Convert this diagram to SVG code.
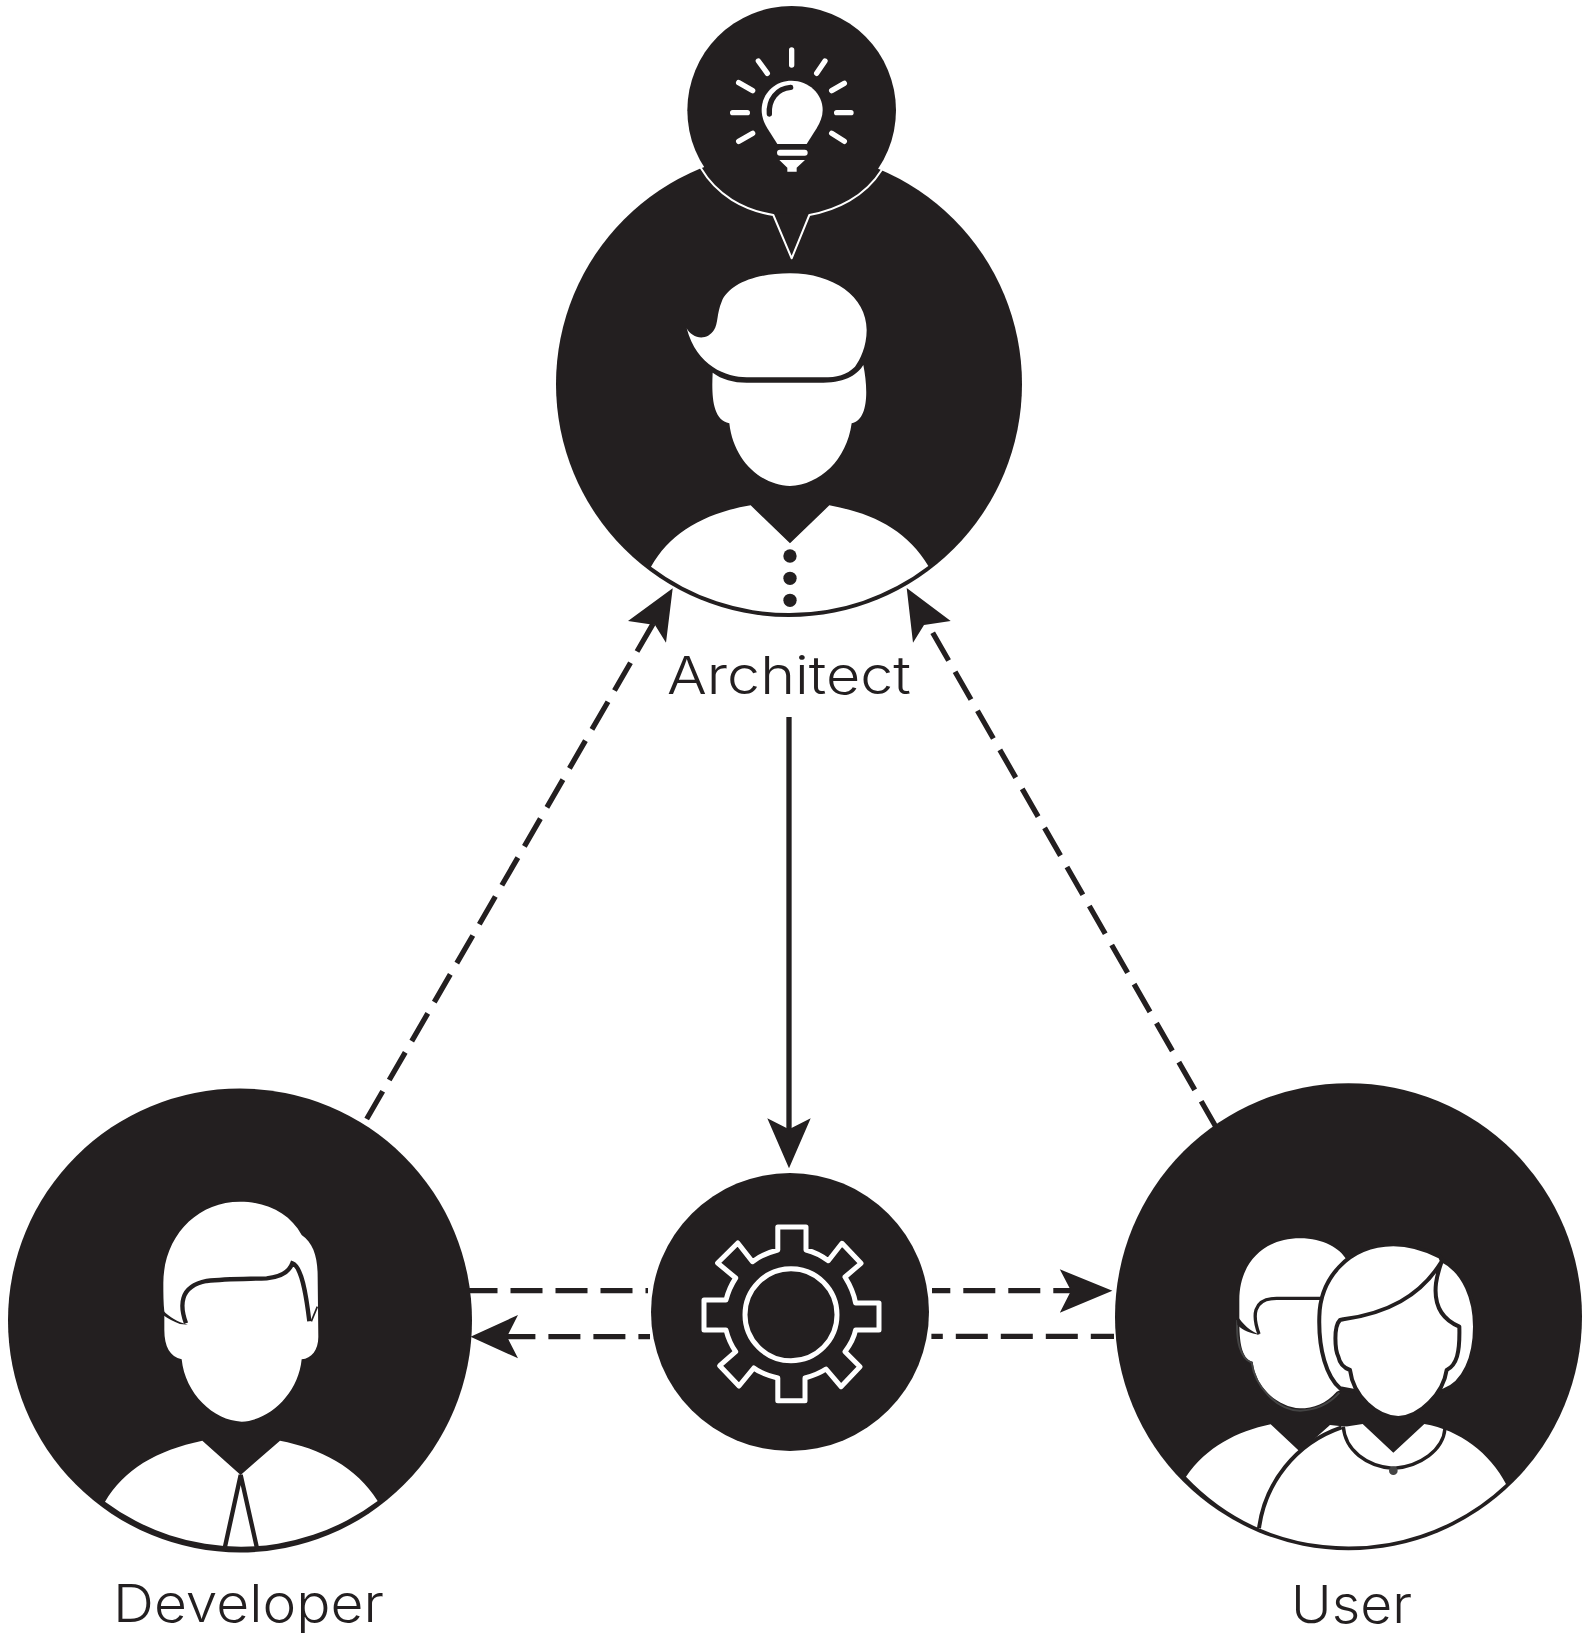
<svg xmlns="http://www.w3.org/2000/svg" width="1583" height="1634" viewBox="0 0 1583 1634">
<style>
.k{fill:#231f20}
.w{fill:#fff}
.o{fill:#fff;stroke:#231f20;stroke-linejoin:round}
.ln{fill:none;stroke:#231f20;stroke-linecap:butt}
.d{fill:none;stroke:#231f20;stroke-width:5.300;stroke-dasharray:32 13}
.wl{fill:none;stroke:#fff;stroke-linecap:round;stroke-linejoin:round}
.t{font-family:Inter,"Open Sans","Liberation Sans",sans-serif;font-weight:300;font-size:52px;fill:#231f20}
</style>
<rect width="1583" height="1634" fill="#fff"/>
<g id="connectors">
<path class="d" d="M366.700 1119L653.500 623"/>
<path class="k" d="M672.700 588.300L628 621L655 625L666 642.700Z"/>
<path class="d" d="M932.700 632.700L1217.700 1130"/>
<path class="k" d="M906.700 588L950.700 621L924 625L913 642.700Z"/>
<path class="ln" stroke-width="5.300" d="M789 717V1135"/>
<path class="k" d="M789 1168.300L767.300 1118.300L789 1129.300L810.700 1118.300Z"/>
<path class="d" d="M465.500 1290.700H648"/>
<path class="d" d="M503.400 1336.700H650"/>
<path class="k" d="M470.500 1336.700L518 1315L507 1336.700L518 1358.300Z"/>
<path class="d" d="M932 1290.700H1072" stroke-dashoffset="13.700"/>
<path class="k" d="M1112.400 1290.700L1059.800 1269.300L1071 1290.700L1059.800 1312.700Z"/>
<path class="d" d="M931.400 1336.300H1114" stroke-dashoffset="20.600"/>
</g>
<g id="architect">
<circle class="k" cx="789" cy="384" r="233"/>
<g transform="translate(540 0) scale(.33333)">
<circle class="k" cx="755" cy="331" r="313"/>
<path class="k" d="M690 640L755 780L820 640Z"/>
<path class="wl" stroke-width="6" stroke-linecap="butt" d="M483 505C530 585 610 630 700 645L755 775L808 645C890 630 975 590 1025 510"/>
<path class="wl" stroke-width="16" d="M755 150V195M655 183L682 220M855 183L830 220M596 248L638 272M913 250L875 272M578 338H622M890 338H933M596 424L638 400M913 424L875 400"/>
<path class="w" d="M712 432L682 385C672 368 665 350 665 330C665 280 705 242 755 242C805 242 848 280 848 330C848 350 840 368 830 385L800 432Z"/>
<path fill="none" stroke="#231f20" stroke-width="16" stroke-linecap="round" d="M688 342C685 300 710 265 752 262"/>
<rect class="w" x="711" y="449" width="92" height="18" rx="9"/>
<path class="w" d="M718 480H795L770 503V515H742V503Z"/>
</g>
<g transform="translate(540 260) scale(.33333)">
<path class="w" d="M518 338C515 400 515 480 568 490C580 600 660 675 750 678C840 675 920 600 935 490C985 480 985 390 970 315C955 340 920 368 850 368H620C580 368 545 358 518 338Z"/>
<path class="w" d="M440 205C455 235 500 245 522 210C535 190 530 160 545 125C565 75 640 40 750 40C880 40 980 110 980 210C980 260 960 300 945 320C920 345 890 352 850 352H620C560 352 470 320 440 205Z"/>
<path class="w" d="M333 920C390 820 490 760 632 736L750 850L868 736C1000 760 1100 810 1165 918A687 687 0 0 1 333 920Z"/>
<circle class="k" cx="750" cy="888" r="20"/>
<circle class="k" cx="750" cy="955" r="20"/>
<circle class="k" cx="750" cy="1021" r="20"/>
</g>
<text class="t" x="667" y="694" textLength="244" lengthAdjust="spacingAndGlyphs">Architect</text>
</g>
<g id="developer">
<circle class="k" cx="240" cy="1320.500" r="232"/>
<g transform="translate(0 1180) scale(.33333)">
<path class="w" d="M490 310C490 170 590 65 720 65C800 65 870 100 905 165C940 190 953 230 953 290L955 470C955 510 935 535 905 538C895 640 810 722 725 725C640 722 555 640 545 538C510 530 493 500 493 450V395C490 370 490 340 490 310Z"/>
<path class="ln" stroke-width="13" d="M558 430C540 380 535 320 620 303C680 296 750 297 800 295C850 290 870 270 877 250C905 260 918 340 928 424"/>
<path class="k" d="M490 392C510 412 530 425 564 434L540 432C520 425 505 417 490 406Z"/>
<path class="ln" stroke-width="5" d="M934 424L952 380"/>
<path class="w" d="M315 965C370 870 470 810 607 782L722 885L840 782C960 805 1070 860 1133 963A683 683 0 0 1 315 965Z"/>
<path class="ln" stroke-width="13" d="M675 1100L722 885L770 1100"/>
</g>
<text class="t" x="113" y="1621.700" textLength="271" lengthAdjust="spacingAndGlyphs">Developer</text>
</g>
<g id="hub">
<circle class="k" cx="790" cy="1312" r="139"/>
<path class="wl" stroke-width="5" d="M777.800 1227H806V1250C814 1252 822 1256 828.300 1260.700L842 1243.300L861 1263.300L845 1277C850 1285 854 1294 855.600 1303H879V1330H855.600C854 1338 850 1345 845 1351.700L860 1366.700L841 1386.700L826 1369C820 1373 812 1376 805 1378V1400.700H777.800V1378C770 1376 760 1373 753.800 1368L739 1386L719.700 1365.700L735.700 1351.700C731 1345 728 1338 726 1330H704V1300H726C728 1292 731 1285 735.700 1278L717.600 1263L737.800 1243L752.500 1261.700C760 1256 770 1252 777.800 1250Z"/>
<circle class="wl" stroke-width="5" cx="791" cy="1314.700" r="46"/>
</g>
<g id="user">
<circle class="k" cx="1348.500" cy="1316.700" r="233.500"/>
<g transform="translate(1180 1200) scale(.33333)">
<path class="w" d="M178 300C178 190 250 115 360 115C430 115 480 145 500 180V560L470 575C440 610 400 625 360 625C290 620 225 560 218 485C190 480 178 440 178 370Z"/>
<path fill="none" stroke="#444" stroke-width="6" d="M172 360C168 420 180 475 215 488C225 560 290 630 360 632C410 630 450 610 478 578"/>
<path class="ln" stroke-width="10" d="M237 402C218 350 215 295 290 295H430"/>
<path class="k" d="M170 345C190 375 210 392 240 405C210 400 190 392 172 375Z"/>
<path class="w" d="M18 830C80 740 170 695 272 673L360 755L450 675L500 680V1000L237 985A688 688 0 0 1 18 830Z"/>
<path class="o" stroke-width="12" d="M780 170C720 140 680 133 640 133C500 135 420 240 418 350C415 450 440 530 480 565L520 572H790C854 550 885 470 885 380C885 300 855 215 785 180Z"/>
<path class="o" stroke-width="12" d="M480 360C460 380 465 450 475 470C480 495 495 505 510 510C520 590 590 652 655 654C720 652 790 580 800 510C830 495 840 460 838 380C790 360 760 320 768 250C772 220 780 200 785 185C720 290 620 340 490 358Z"/>
<path class="w" d="M237 985C255 850 345 730 485 682L548 672L640 758L733 672C840 690 930 760 978 852A688 688 0 0 1 237 985Z"/>
<path class="ln" stroke-width="12" d="M237 985C255 850 345 730 485 682"/>
<path class="ln" stroke-width="10" d="M490 680C495 750 560 800 640 805C720 800 790 750 795 685"/>
<circle cx="640" cy="812" r="13" fill="#444"/>
</g>
<text class="t" x="1291" y="1622.700" textLength="121" lengthAdjust="spacingAndGlyphs">User</text>
</g>
</svg>
